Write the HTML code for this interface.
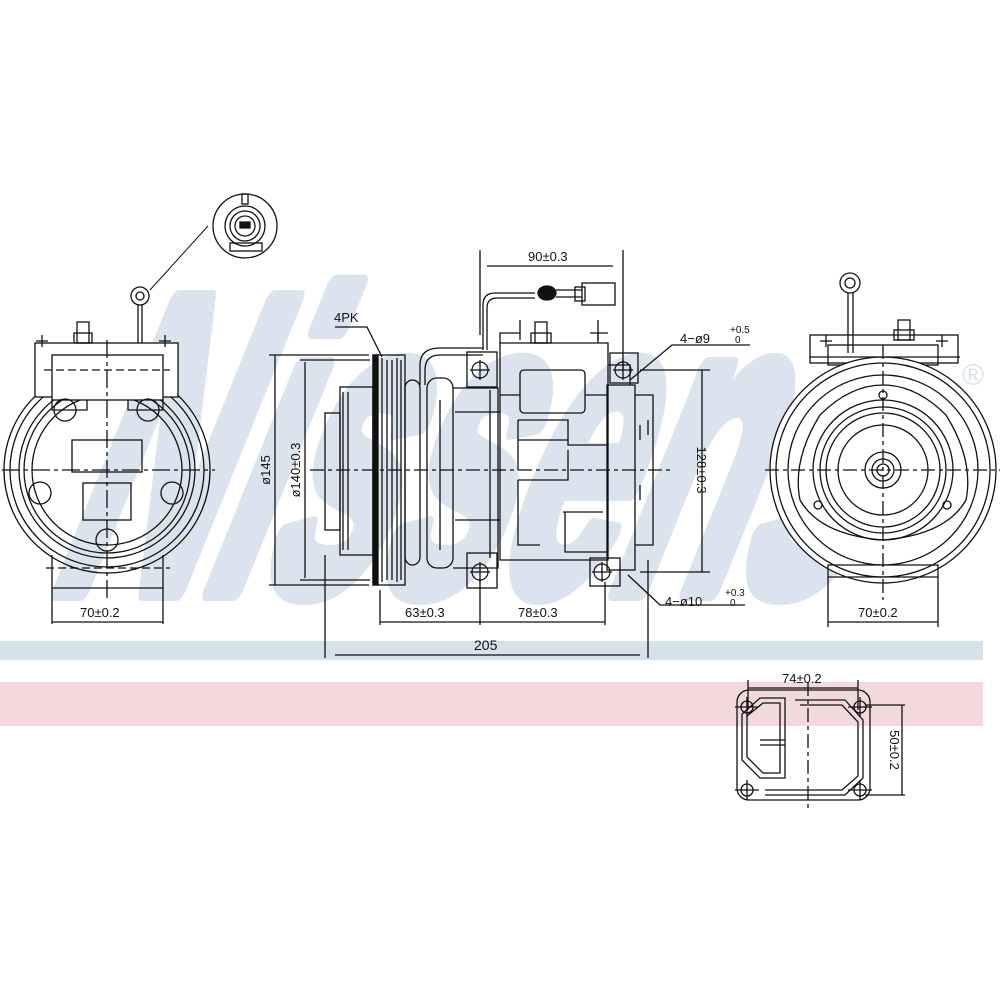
<!DOCTYPE html>
<html><head><meta charset="utf-8"><style>
html,body{margin:0;padding:0;background:#fff;}
svg{display:block;}
text{font-family:"Liberation Sans",sans-serif;fill:#111;}
</style></head><body>
<svg width="1000" height="1000" viewBox="0 0 1000 1000" xmlns="http://www.w3.org/2000/svg">
<rect width="1000" height="1000" fill="#fff"/>
<!-- watermark -->
<g transform="translate(0,600) skewX(-22)">
<text x="40" y="-10" font-size="420" font-weight="bold" textLength="800" lengthAdjust="spacingAndGlyphs" style="fill:#dae3ee;stroke:#dae3ee;stroke-width:22;stroke-linejoin:round">Nissens</text>
</g>
<text x="962" y="385" font-size="30" style="fill:#d9e3ee">®</text>
<rect x="0" y="641" width="983" height="19" fill="#d6e2ea"/>
<rect x="0" y="682" width="983" height="44" fill="#f2d9de"/>

<g fill="none" stroke="#111" stroke-width="1.3">
<!-- LEFT VIEW -->
<circle cx="107" cy="470" r="103"/>
<circle cx="107" cy="470" r="97"/>
<circle cx="107" cy="470" r="88"/>
<circle cx="107" cy="470" r="83"/>
<circle cx="107" cy="470" r="75"/>
<rect x="35" y="343" width="143" height="54" fill="#fff"/>
<rect x="52" y="355" width="111" height="45" fill="#fff"/>
<path d="M52 400 v10 h35 v-10 M163 400 v10 h-35 v-10"/>
<line x1="44" y1="370" x2="170" y2="370" stroke-dasharray="8,4"/>
<rect x="77" y="322" width="12" height="21"/><rect x="74" y="333" width="18" height="10"/>
<path d="M42 335 v12 M36 341 h12 M165 335 v12 M159 341 h12"/>
<line x1="138" y1="305" x2="138" y2="343"/><line x1="142" y1="305" x2="142" y2="343"/>
<circle cx="140" cy="296" r="9"/><circle cx="140" cy="296" r="4"/>
<line x1="150" y1="290" x2="208" y2="226" stroke-width="1"/>
<circle cx="245" cy="226" r="32"/>
<circle cx="245" cy="226" r="20"/><circle cx="245" cy="226" r="15"/><circle cx="245" cy="226" r="10"/>
<rect x="240" y="222" width="10" height="6" fill="#111"/>
<rect x="230" y="243" width="32" height="8"/><rect x="242" y="194" width="6" height="10"/>
<circle cx="65" cy="410" r="11"/><circle cx="148" cy="410" r="11"/>
<circle cx="40" cy="493" r="11"/><circle cx="172" cy="493" r="11"/>
<circle cx="107" cy="540" r="11"/>
<rect x="72" y="440" width="70" height="32"/><rect x="83" y="483" width="48" height="37"/>
<path d="M52 555 v33 h111 v-33"/>
<line x1="46" y1="568" x2="170" y2="568" stroke-dasharray="8,4"/>
<line x1="2" y1="470" x2="215" y2="470" stroke-dasharray="18,4,4,4"/>
<line x1="107" y1="340" x2="107" y2="600" stroke-dasharray="18,4,4,4"/>
<path d="M52 588 v36 M163 588 v36 M52 622 h111"/>

<!-- MIDDLE VIEW -->
<path d="M480 250 v85 M623 250 v120 M487 266 h126"/>
<path d="M275 355 v230 M269 355 h100 M269 585 h100"/>
<path d="M305 362 v216 M300 360 h70 M300 580 h70"/>
<path d="M335 327 h32 l15 30"/>
<rect x="373" y="355" width="32" height="230"/>
<rect x="373" y="355" width="5" height="230" fill="#111"/>
<path d="M382 358 v224 M387 360 v220 M392 360 v220 M397 358 v224 M401 360 v220"/>
<rect x="340" y="387" width="33" height="168"/>
<rect x="325" y="413" width="15" height="117"/>
<path d="M343 392 v158 M348 392 v158"/>
<rect x="405" y="380" width="15" height="185" rx="8"/>
<path d="M420 385 v-20 q0 -17 20 -17 h43"/>
<path d="M425 385 v-15 q0 -15 15 -15 h43"/>
<rect x="427" y="378" width="26" height="190" rx="10"/>
<path d="M453 388 h45 v180 h-45"/>
<path d="M455 412 h45 M455 520 h45 M440 400 v150 M490 390 v168"/>
<rect x="467" y="352" width="30" height="35"/>
<rect x="467" y="553" width="30" height="35"/>
<path d="M500 343 h108 v217 h-108 z"/>
<path d="M500 343 v-10 h20 M598 333 v10 M590 333 h18"/>
<rect x="535" y="322" width="12" height="21"/><rect x="531" y="333" width="20" height="10"/>
<path d="M520 320 v20 M598 320 v20"/>
<rect x="520" y="370" width="65" height="43" rx="4"/>
<path d="M500 395 h20 M585 395 h23 M518 420 h50 v25 h40 M518 420 v50 M518 440 h50 M518 480 h50 v-30 M518 480 v65 h22 M563 512 h40 M565 512 v40 h43"/>
<rect x="607" y="385" width="28" height="185"/>
<path d="M608 365 h22 v20 M635 395 h18 v150 h-18 M640 425 v15 M640 485 v15 M648 420 v15"/>
<rect x="610" y="353" width="28" height="30"/>
<rect x="590" y="558" width="30" height="28"/>
<g stroke-width="1.2">
<circle cx="480" cy="370" r="8"/><circle cx="623" cy="370" r="8"/>
<circle cx="480" cy="572" r="8"/><circle cx="602" cy="572" r="8"/>
</g>
<path d="M470 370 h20 M480 360 v20 M613 370 h20 M623 360 v20 M470 572 h20 M480 562 v20 M592 572 h20 M602 562 v20"/>
<path d="M483 350 v-45 q0 -12 12 -12 h40"/>
<path d="M487 350 v-42 q0 -10 10 -10 h38"/>
<ellipse cx="547" cy="293" rx="9" ry="7" fill="#111"/>
<path d="M556 290 h26 M556 297 h26"/>
<rect x="582" y="283" width="33" height="22"/><rect x="575" y="287" width="10" height="14"/>
<line x1="310" y1="470" x2="672" y2="470" stroke-dasharray="14,4,4,4"/>
<path d="M640 370 h70 M640 572 h70 M702 370 v202"/>
<path d="M630 380 l42 -35 h78"/>
<path d="M628 575 l32 30 h85"/>
<path d="M380 590 v35 M480 580 v45 M605 582 v43 M380 622 h225"/>
<path d="M325 555 v103 M648 560 v98 M335 655 h305"/>

<!-- RIGHT VIEW -->
<rect x="810" y="335" width="148" height="28" fill="#fff"/>
<rect x="828" y="345" width="110" height="20"/>
<rect x="898" y="320" width="12" height="20"/><rect x="894" y="330" width="20" height="10"/>
<path d="M826 335 v12 M820 341 h12 M942 335 v12 M936 341 h12"/>
<path d="M848 293 v60 M853 293 v60"/>
<circle cx="850" cy="283" r="10"/><circle cx="850" cy="283" r="5"/>
<circle cx="883" cy="470" r="113" fill="#fff"/>
<circle cx="883" cy="470" r="107"/>
<circle cx="883" cy="470" r="95"/>
<path d="M820 470 a63 63 0 0 1 126 0 a63 63 0 0 1 -126 0"/>
<circle cx="883" cy="470" r="70"/>
<circle cx="883" cy="470" r="57"/>
<circle cx="883" cy="470" r="45"/>
<circle cx="883" cy="470" r="18"/>
<circle cx="883" cy="470" r="11"/><circle cx="883" cy="470" r="6"/>
<path d="M800 500 q-8 -40 20 -85 q30 -30 63 -30 q33 0 63 30 q28 45 20 85 q-20 35 -83 40 q-63 -5 -83 -40 z"/>
<circle cx="818" cy="505" r="4"/><circle cx="947" cy="505" r="4"/><circle cx="883" cy="395" r="4"/>
<path d="M828 577 v50 M938 577 v50 M828 565 h110 v12 h-110 z M828 622 h110"/>
<line x1="765" y1="470" x2="1000" y2="470" stroke-dasharray="14,4,4,4"/>
<line x1="883" y1="345" x2="883" y2="600" stroke-dasharray="14,4,4,4"/>
<line x1="810" y1="357" x2="960" y2="357"/>

<!-- GASKET -->
<rect x="737" y="690" width="133" height="110" rx="12"/>
<path d="M748 680 v30 M858 680 v30 M748 688 h110"/>
<path d="M742 714 L760 698 H785 V778 H760 L742 760 Z"/>
<path d="M747 716 L763 703 H780 V773 H763 L747 757 Z"/>
<path d="M795 700 H845 L863 720 V778 L845 795 H765"/>
<path d="M800 705 H842 L858 722 V776 L842 790 H765"/>
<path d="M760 740 h25 M760 745 h25"/>
<circle cx="747" cy="707" r="6"/><circle cx="860" cy="707" r="6"/>
<circle cx="747" cy="790" r="6"/><circle cx="860" cy="790" r="6"/>
<path d="M735 707 h24 M747 697 v20 M848 707 h24 M860 697 v20 M735 790 h24 M747 780 v20 M848 790 h24 M860 780 v20"/>
<line x1="808" y1="682" x2="808" y2="810" stroke-dasharray="14,4,4,4"/>
<path d="M865 705 h40 M865 795 h40 M902 705 v90"/>
</g>

<!-- LABELS -->
<g font-size="13">
<text x="528" y="261">90±0.3</text>
<text x="334" y="322">4PK</text>
<text x="680" y="343">4−ø9</text>
<text x="730" y="333" font-size="10">+0.5</text>
<text x="735" y="343" font-size="10">0</text>
<text x="665" y="606">4−ø10</text>
<text x="725" y="596" font-size="10">+0.3</text>
<text x="730" y="606" font-size="10">0</text>
<text x="405" y="617">63±0.3</text>
<text x="518" y="617">78±0.3</text>
<text x="474" y="650" font-size="14">205</text>
<text x="80" y="617">70±0.2</text>
<text x="858" y="617">70±0.2</text>
<text x="782" y="683">74±0.2</text>
<text transform="translate(270,470) rotate(-90)" text-anchor="middle">ø145</text>
<text transform="translate(300,470) rotate(-90)" text-anchor="middle">ø140±0.3</text>
<text transform="translate(697,470) rotate(90)" text-anchor="middle">128±0.3</text>
<text transform="translate(890,750) rotate(90)" text-anchor="middle">50±0.2</text>
</g>
</svg>
</body></html>
